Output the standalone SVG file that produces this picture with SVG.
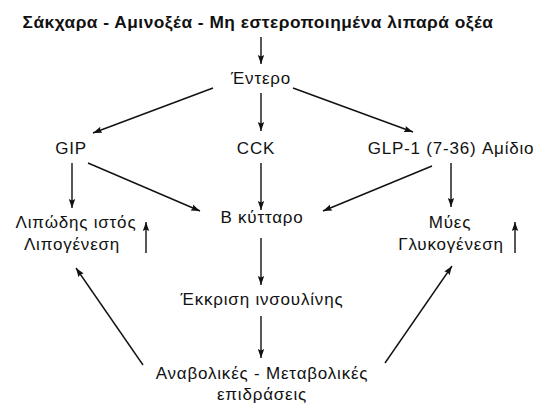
<svg xmlns="http://www.w3.org/2000/svg" width="536" height="404" viewBox="0 0 536 404">
<style>
text{font-family:"Liberation Sans",Arial,sans-serif;font-size:17px;letter-spacing:0.8px;fill:#111;text-anchor:middle}
.t{font-weight:bold;letter-spacing:0.5px}
.c line{stroke:#111;stroke-width:1.4;marker-end:url(#a)}
</style>
<defs>
<marker id="a" markerWidth="10" markerHeight="8" refX="9" refY="4" orient="auto" markerUnits="userSpaceOnUse">
<path d="M0,0.8 L9,4 L0,7.2 L1.5,4 Z" fill="#111"/>
</marker>
</defs>
<rect width="536" height="404" fill="#fff"/>
<g id="title"><text class="t" x="258" y="28" textLength="471" lengthAdjust="spacingAndGlyphs">Σάκχαρα - Αμινοξέα - Μη εστεροποιημένα λιπαρά οξέα</text></g>
<g id="entero"><text x="261" y="84">Έντερο</text></g>
<g id="gip"><text x="71" y="154">GIP</text></g>
<g id="cck"><text x="256" y="154">CCK</text></g>
<g id="glp"><text x="451" y="154">GLP-1 (7-36) Αμίδιο</text></g>
<g id="lipodis"><text x="76" y="228">Λιπώδης ιστός</text><text x="72" y="250">Λιπογένεση</text></g>
<g id="bcell"><text x="262" y="223">Β κύτταρο</text></g>
<g id="myes"><text x="450" y="228">Μύες</text><text x="451" y="250">Γλυκογένεση</text></g>
<g id="ekkrisi"><text x="262" y="305">Έκκριση ινσουλίνης</text></g>
<g id="anavolikes"><text x="262" y="379">Αναβολικές - Μεταβολικές</text><text x="262" y="400">επιδράσεις</text></g>
<g class="c" id="connectors">
<line x1="261" y1="37" x2="261" y2="64"/>
<line x1="213" y1="88" x2="93" y2="133"/>
<line x1="261" y1="93" x2="261" y2="131"/>
<line x1="293" y1="88" x2="413" y2="132"/>
<line x1="72" y1="163" x2="72" y2="208"/>
<line x1="88" y1="163" x2="200" y2="211"/>
<line x1="261" y1="163" x2="261" y2="210"/>
<line x1="432" y1="166" x2="323" y2="211"/>
<line x1="451" y1="163" x2="451" y2="207"/>
<line x1="146" y1="253" x2="146" y2="222"/>
<line x1="515" y1="253" x2="515" y2="222"/>
<line x1="261" y1="238" x2="261" y2="285"/>
<line x1="261" y1="316" x2="261" y2="358"/>
<line x1="143" y1="365" x2="76" y2="268"/>
<line x1="385" y1="363" x2="452" y2="266"/>
</g>
</svg>
